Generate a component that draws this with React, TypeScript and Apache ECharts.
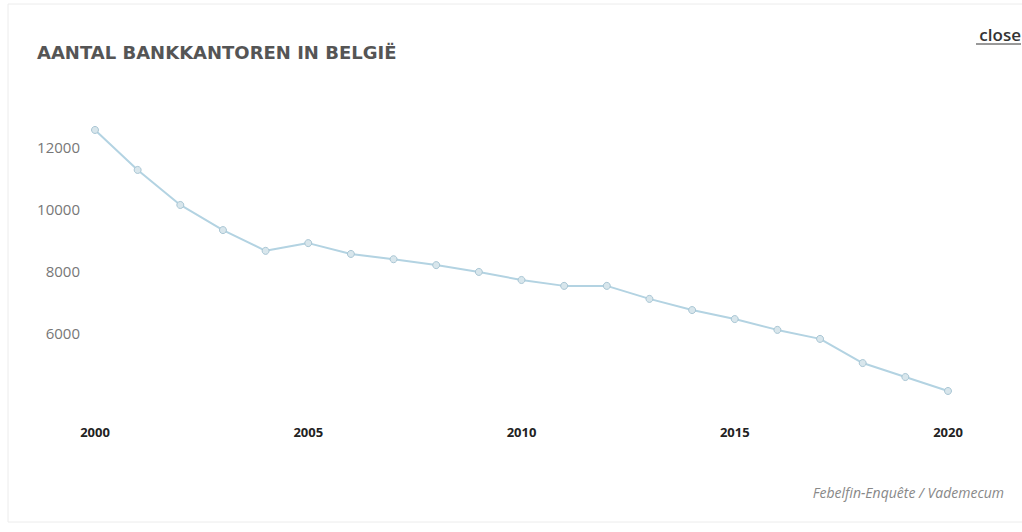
import React, { useEffect, useRef } from "react";
import * as echarts from "echarts";

const years = [
  "2000", "2001", "2002", "2003", "2004", "2005", "2006", "2007", "2008", "2009", "2010",
  "2011", "2012", "2013", "2014", "2015", "2016", "2017", "2018", "2019", "2020",
];
const branches = [
  12550, 11260, 10130, 9320, 8650, 8900, 8550, 8380, 8190, 7970, 7710,
  7520, 7520, 7100, 6740, 6450, 6100, 5810, 5030, 4580, 4130,
];
const yTickLabels = [6000, 8000, 10000, 12000];
const xTickLabels = ["2000", "2005", "2010", "2015", "2020"];
const titleText = "AANTAL BANKKANTOREN IN BELGIË";
const closeText = "close";
const sourceText = "Febelfin-Enquête / Vademecum";

export default function App() {
  const ref = useRef<HTMLDivElement>(null);
  useEffect(() => {
    if (!ref.current) return;
    const chart = echarts.init(ref.current, null, { renderer: "svg" });
    const font = "'Open Sans', 'Noto Sans', sans-serif";
    chart.setOption({
      animation: false,
      backgroundColor: "#ffffff",
      grid: { left: 95, right: 74, top: 116, bottom: 137 },
      xAxis: {
        type: "category",
        data: years,
        boundaryGap: false,
        axisLine: { show: false },
        axisTick: { show: false },
        axisLabel: {
          margin: 30,
          interval: 0,
          color: "#222",
          fontWeight: "bold",
          fontSize: 13,
          fontFamily: font,
          formatter: (v: string) => (xTickLabels.includes(v) ? v : ""),
        },
        splitLine: { show: false },
      },
      yAxis: {
        type: "value",
        min: 4000,
        max: 13000,
        interval: 2000,
        axisLine: { show: false },
        axisTick: { show: false },
        splitLine: { show: false },
        axisLabel: {
          margin: 15,
          color: "#777",
          fontSize: 15,
          fontFamily: font,
          formatter: (v: number) => (yTickLabels.includes(v) ? String(v) : ""),
        },
      },
      series: [
        {
          type: "line",
          data: branches,
          symbol: "circle",
          symbolSize: 7,
          lineStyle: { color: "#b3d3e2", width: 2 },
          itemStyle: { color: "#d8e6ec", borderColor: "#a9c6d4", borderWidth: 1 },
        },
      ],
      graphic: [
        {
          type: "rect",
          shape: { x: 8, y: 4, width: 1030, height: 518 },
          style: { fill: "none", stroke: "#ececec", lineWidth: 1 },
          silent: true,
        },
        {
          type: "text",
          x: 37,
          y: 52,
          style: {
            text: titleText,
            fill: "#555",
            font: `bold 18px 'DejaVu Sans', sans-serif`,
            textVerticalAlign: "middle",
          },
        },
        {
          type: "text",
          x: 1021,
          y: 34,
          style: {
            text: closeText,
            fill: "#333",
            font: `600 17px ${font}`,
            textAlign: "right",
            textVerticalAlign: "middle",
          },
        },
        {
          type: "line",
          shape: { x1: 976, y1: 44, x2: 1021, y2: 44 },
          style: { stroke: "#333", lineWidth: 1 },
        },
        {
          type: "text",
          x: 1004,
          y: 492,
          style: {
            text: sourceText,
            fill: "#888",
            font: `italic 14px ${font}`,
            textAlign: "right",
            textVerticalAlign: "middle",
          },
        },
      ],
    });
    return () => chart.dispose();
  }, []);
  return (
    <div
      ref={ref}
      style={{ position: "fixed", left: 0, top: 0, width: 1022, height: 532 }}
    />
  );
}
